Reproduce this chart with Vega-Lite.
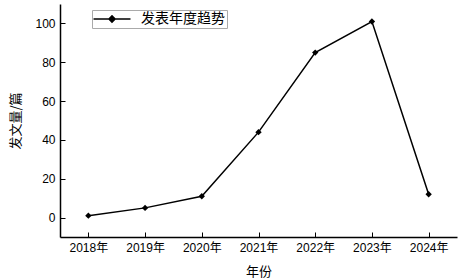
{
  "$schema": "https://vega.github.io/schema/vega-lite/v6.json",
  "width": 397,
  "height": 233,
  "autosize": {"type": "none"},
  "padding": {"left": 60, "top": 4, "right": 3, "bottom": 43},
  "background": "white",
  "config": {
    "view": {"stroke": null},
    "axis": {
      "domainColor": "black",
      "domainWidth": 1.5,
      "tickColor": "black",
      "tickWidth": 1,
      "grid": false,
      "labelFont": "Liberation Sans",
      "labelFontSize": 12,
      "labelColor": "black",
      "titleFont": "Noto Sans CJK SC",
      "titleFontSize": 13,
      "titleFontWeight": "normal",
      "titleColor": "black"
    }
  },
  "data": {
    "values": [
      {"year": "2018年", "count": 1, "series": "发表年度趋势"},
      {"year": "2019年", "count": 5, "series": "发表年度趋势"},
      {"year": "2020年", "count": 11, "series": "发表年度趋势"},
      {"year": "2021年", "count": 44, "series": "发表年度趋势"},
      {"year": "2022年", "count": 85, "series": "发表年度趋势"},
      {"year": "2023年", "count": 101, "series": "发表年度趋势"},
      {"year": "2024年", "count": 12, "series": "发表年度趋势"}
    ]
  },
  "encoding": {
    "x": {
      "field": "year",
      "type": "ordinal",
      "scale": {"type": "point", "padding": 0.5},
      "axis": {"title": "年份", "labelAngle": 0, "tickSize": -5, "labelPadding": 10, "titlePadding": 12, "labelFont": "Liberation Sans, Noto Sans CJK SC", "labelFontSize": 12}
    },
    "y": {
      "field": "count",
      "type": "quantitative",
      "scale": {"domain": [-10, 110], "nice": false, "zero": false},
      "axis": {"title": "发文量/篇", "values": [0, 20, 40, 60, 80, 100], "tickSize": -5, "labelPadding": 10, "titlePadding": 12}
    }
  },
  "layer": [
    {
      "mark": {"type": "line", "color": "black", "strokeWidth": 1.5},
      "encoding": {
        "color": {
          "field": "series",
          "type": "nominal",
          "scale": {"range": ["black"]},
          "legend": {
            "title": null,
            "orient": "none",
            "legendX": 32,
            "legendY": 6,
            "symbolType": "M-3,0H3M-0.5,0L0,-0.5L0.5,0L0,0.5Z",
            "symbolSize": 152,
            "symbolOffset": 11,
            "strokeColor": "#aaaaaa",
            "padding": 2,
            "labelFont": "Noto Sans CJK SC",
            "labelFontSize": 14,
            "labelColor": "black",
            "labelOffset": 22,
            "encode": {
              "symbols": {"update": {"fill": {"value": "black"}, "stroke": {"value": "black"}, "strokeWidth": {"value": 1.5}}}
            }
          }
        }
      }
    },
    {
      "mark": {"type": "point", "shape": "diamond", "filled": true, "color": "black", "size": 40, "opacity": 1}
    }
  ]
}
